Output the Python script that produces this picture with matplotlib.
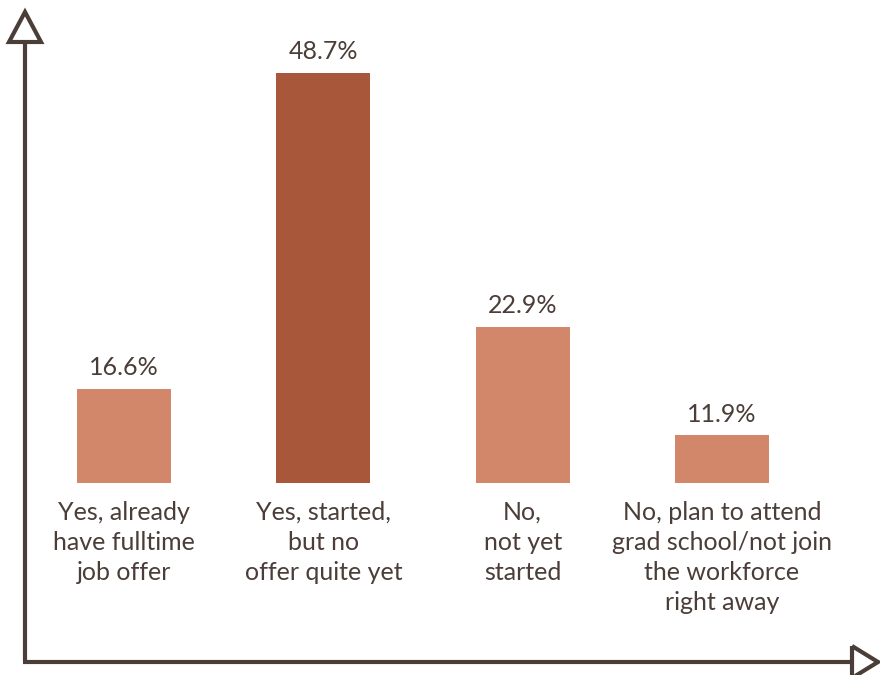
import matplotlib.pyplot as plt
from matplotlib.lines import Line2D
from matplotlib.patches import Polygon

categories = [
    "Yes, already\nhave fulltime\njob offer",
    "Yes, started,\nbut no\noffer quite yet",
    "No,\nnot yet\nstarted",
    "No, plan to attend\ngrad school/not join\nthe workforce\nright away",
]
shares = [16.6, 48.7, 22.9, 11.9]
highlight = [False, True, False, False]

light = "#d2866a"
dark = "#a9573b"
ink = "#4b3d38"

plt.rcParams["font.family"] = ["Lato", "DejaVu Sans"]

W, H = 880, 675
fig = plt.figure(figsize=(W / 100, H / 100), dpi=100)

# axes box in pixel terms: left 24, right 870, top 40, bottom 483
ax = fig.add_axes([24 / W, (H - 483) / H, (870 - 24) / W, (483 - 40) / H])
ax.set_xlim(-0.502, 3.743)
ax.set_ylim(7.08, 52.0)

colors = [dark if h else light for h in highlight]
xs = range(len(shares))
bars = ax.bar(xs, shares, width=0.472, color=colors)

for b, v in zip(bars, shares):
    ax.annotate(f"{v}%", (b.get_x() + b.get_width() / 2, v),
                xytext=(0, 7), textcoords="offset points",
                ha="center", va="bottom", fontsize=18, color=ink)

ax.set_xticks(list(xs))
ax.set_xticklabels(categories, fontsize=18, color=ink, linespacing=1.36)
ax.tick_params(axis="x", length=0, pad=13)
ax.set_yticks([])
for s in ax.spines.values():
    s.set_visible(False)
ax.patch.set_alpha(0)


def px(x, y):
    return (x / W, 1 - y / H)


# hand-drawn style axis arrows
lw = 3
fig.add_artist(Line2D([px(25, 0)[0]] * 2, [px(0, 42)[1], px(0, 662)[1]],
                      color=ink, lw=lw, solid_capstyle="butt"))
fig.add_artist(Line2D([px(23, 0)[0], px(852, 0)[0]], [px(0, 662)[1]] * 2,
                      color=ink, lw=lw, solid_capstyle="butt"))
fig.add_artist(Polygon([px(9, 42), px(41, 42), px(25, 12)], closed=True,
                       fill=False, edgecolor=ink, lw=lw, joinstyle="miter"))
fig.add_artist(Polygon([px(852, 646), px(852, 678), px(878, 662)], closed=True,
                       fill=False, edgecolor=ink, lw=lw, joinstyle="miter"))

fig.savefig("out.png", dpi=100)
